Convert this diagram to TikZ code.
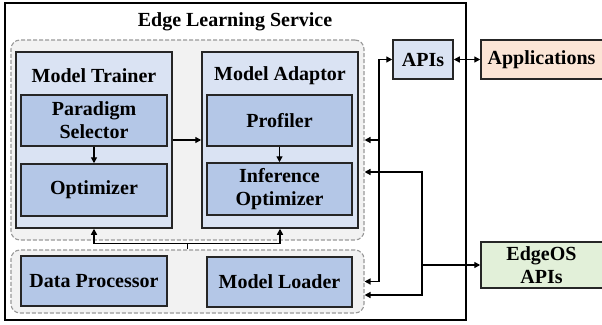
\documentclass[tikz,border=0pt]{standalone}
\usepackage{fontspec}
\setmainfont{Liberation Serif}
\usetikzlibrary{arrows.meta,calc}
\definecolor{regionfill}{HTML}{F2F2F2}
\definecolor{regiondraw}{HTML}{999999}
\definecolor{outerfill}{HTML}{DAE3F3}
\definecolor{innerfill}{HTML}{B4C7E7}
\definecolor{appfill}{HTML}{FBE5D6}
\definecolor{osfill}{HTML}{E2F0D9}
\definecolor{boxdraw}{HTML}{262626}
\tikzset{
  txt/.style={font=\bfseries\fontsize{20}{23}\selectfont, align=center},
  region/.style={draw=regiondraw, fill=regionfill, dashed, dash pattern=on 4pt off 2pt, line width=1.1pt, rounded corners=9pt, inner sep=0pt},
  modbox/.style={draw=boxdraw, fill=outerfill, line width=1.5pt, inner sep=0pt},
  subbox/.style={draw=boxdraw, fill=innerfill, line width=1.5pt, inner sep=0pt, txt},
  extbox/.style={draw=boxdraw, line width=1.5pt, inner sep=0pt, txt},
  arr/.style={line width=1.4pt, -{Triangle[length=6pt,width=6pt]}},
  darr/.style={line width=1.4pt, {Triangle[length=6pt,width=6pt]}-{Triangle[length=6pt,width=6pt]}},
  conn/.style={line width=1.4pt}
}
\begin{document}
\begin{tikzpicture}[x=1pt,y=-1pt]
\useasboundingbox (0,0) rectangle (602,324);
% outer service box
\node[draw=black, fill=white, line width=1.4pt, minimum width=461pt, minimum height=317pt, inner sep=0pt] (service) at (235.5,161.5) {};
\node[txt] (title) at (235,22) {Edge Learning Service};
% regions
\node[region, minimum width=353pt, minimum height=200pt] (upper) at (187.5,140) {};
\node[region, minimum width=353pt, minimum height=63pt] (lower) at (187.5,281.5) {};
% model trainer
\node[modbox, minimum width=156pt, minimum height=176pt] (trainer) at (94,140) {};
\node[txt] (trainertitle) at (94,76) {Model Trainer};
\node[subbox, minimum width=146pt, minimum height=51pt] (paradigm) at (94,120.5) {Paradigm\\Selector};
\node[subbox, minimum width=146pt, minimum height=52pt] (optimizer) at (94,190) {Optimizer};
% model adaptor
\node[modbox, minimum width=156pt, minimum height=176pt] (adaptor) at (280,140) {};
\node[txt] (adaptortitle) at (280,76) {Model Adaptor};
\node[subbox, minimum width=145pt, minimum height=51pt] (profiler) at (279.5,120.5) {Profiler};
\node[subbox, minimum width=145pt, minimum height=52pt] (inference) at (279.5,189) {Inference\\Optimizer};
% lower
\node[subbox, minimum width=146pt, minimum height=50pt] (dataproc) at (94,281) {Data Processor};
\node[subbox, minimum width=145pt, minimum height=50pt] (loader) at (279.5,282) {Model Loader};
% external
\node[extbox, fill=outerfill, minimum width=60pt, minimum height=39pt] (apis) at (423,59.5) {APIs};
\node[extbox, fill=appfill, minimum width=124pt, minimum height=39pt] (apps) at (543,59.5) {\hspace*{-3pt}Applications};
\node[extbox, fill=osfill, minimum width=124pt, minimum height=46pt] (edgeos) at (543,265) {\hspace*{-3pt}EdgeOS\\\hspace*{-3pt}APIs};
% internal connectors
\draw[arr] (paradigm) -- (optimizer);
\draw[arr] (profiler) -- (inference);
\draw[arr] (trainer.east) -- (adaptor.west);
\coordinate (split) at ($(lower.north)+(0,-6)$);
\draw[conn] (lower.north) -- (split);
\draw[arr] (split) -| (trainer.south);
\draw[arr] (split) -| (adaptor.south);
% APIs bus
\coordinate (bus) at (379,140);
\draw[arr] (bus) |- (apis.west);
\draw[arr] (bus) -- (upper.east);
\draw[arr] (bus) |- (lower.east);
\draw[darr] (apis.east) -- (apps.west);
% EdgeOS bus
\coordinate (osbus) at (422,265);
\draw[arr] (osbus) -- (edgeos.west);
\draw[arr] (osbus) |- ($(upper.east)+(0,32)$);
\draw[arr] (osbus) |- ($(lower.east)+(0,13.5)$);
\end{tikzpicture}
\end{document}
